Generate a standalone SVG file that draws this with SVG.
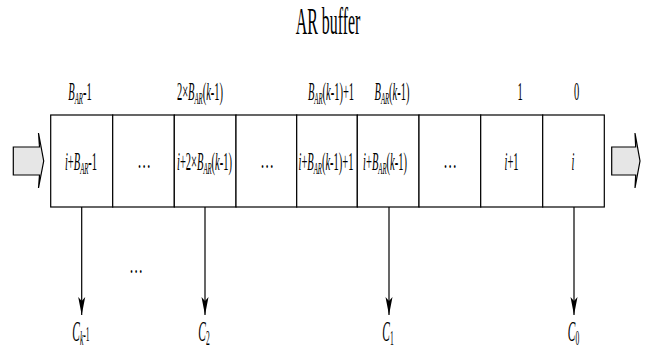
<svg xmlns="http://www.w3.org/2000/svg" width="648" height="351" viewBox="0 0 648 351">
<style>
text{font-family:"Liberation Serif","Times New Roman",serif;fill:#000;text-anchor:middle}
.t{font-size:25px}
.title{font-size:37px}
.c{font-size:30px}
.s{font-size:16px;font-style:italic}
.it{font-style:italic}
.cell{fill:#fff;stroke:#000;stroke-width:1.2}
.blk{fill:#e6e6e6;stroke:#000;stroke-width:1.2}
.con{stroke:#000;stroke-width:1.2;fill:none;marker-end:url(#ah)}
</style>
<defs>
<marker id="ah" markerUnits="userSpaceOnUse" markerWidth="24" markerHeight="12" viewBox="-20 -6 22 12" refX="0" refY="0" orient="auto">
<path d="M0,0 L-18,-3.5 L-14,0 L-18,3.5 Z" fill="#000"/>
</marker>
</defs>
<rect width="648" height="351" fill="#fff"/>
<text class="title" transform="translate(328,34) scale(0.43,1)">AR buffer</text>

<g id="in-arrow"><polygon class="blk" points="13.3,147 39.5,147 38.5,133 43.7,161 38.5,188 39.5,175 13.3,175"/></g>
<g id="out-arrow"><polygon class="blk" points="611.7,147 635.7,147 635,133 640,161 635,188 635.7,175 611.7,175"/></g>

<g id="cell1"><rect class="cell" x="50.7" y="115" width="62" height="92"/>
<text class="t" transform="translate(81,170) scale(0.42,1)"><tspan class="it">i</tspan>+<tspan class="it">B</tspan><tspan class="s" dy="4">AR</tspan><tspan dy="-4">-1</tspan></text></g>
<g id="cell2"><rect class="cell" x="112.7" y="115" width="61.6" height="92"/>
<text class="t" transform="translate(144,168) scale(0.55,1)">…</text></g>
<g id="cell3"><rect class="cell" x="174.3" y="115" width="61.7" height="92"/>
<text class="t" transform="translate(204.5,170) scale(0.42,1)"><tspan class="it">i</tspan>+2×<tspan class="it">B</tspan><tspan class="s" dy="4">AR</tspan><tspan dy="-4">(</tspan><tspan class="it">k</tspan>-1)</text></g>
<g id="cell4"><rect class="cell" x="236" y="115" width="60.7" height="92"/>
<text class="t" transform="translate(267,168) scale(0.55,1)">…</text></g>
<g id="cell5"><rect class="cell" x="296.7" y="115" width="60.6" height="92"/>
<text class="t" transform="translate(326,170) scale(0.42,1)"><tspan class="it">i</tspan>+<tspan class="it">B</tspan><tspan class="s" dy="4">AR</tspan><tspan dy="-4">(</tspan><tspan class="it">k</tspan>-1)+1</text></g>
<g id="cell6"><rect class="cell" x="357.3" y="115" width="61.7" height="92"/>
<text class="t" transform="translate(385,170) scale(0.42,1)"><tspan class="it">i</tspan>+<tspan class="it">B</tspan><tspan class="s" dy="4">AR</tspan><tspan dy="-4">(</tspan><tspan class="it">k</tspan>-1)</text></g>
<g id="cell7"><rect class="cell" x="419" y="115" width="61.7" height="92"/>
<text class="t" transform="translate(450,168) scale(0.55,1)">…</text></g>
<g id="cell8"><rect class="cell" x="480.7" y="115" width="62" height="92"/>
<text class="t" transform="translate(511.5,170) scale(0.42,1)"><tspan class="it">i</tspan>+1</text></g>
<g id="cell9"><rect class="cell" x="542.7" y="115" width="61.6" height="92"/>
<text class="t it" transform="translate(573,170) scale(0.42,1)">i</text></g>

<g id="top-labels">
<text class="t" transform="translate(80,100) scale(0.42,1)"><tspan class="it">B</tspan><tspan class="s" dy="4">AR</tspan><tspan dy="-4">-1</tspan></text>
<text class="t" transform="translate(200,100) scale(0.42,1)">2×<tspan class="it">B</tspan><tspan class="s" dy="4">AR</tspan><tspan dy="-4">(</tspan><tspan class="it">k</tspan>-1)</text>
<text class="t" transform="translate(331,100) scale(0.42,1)"><tspan class="it">B</tspan><tspan class="s" dy="4">AR</tspan><tspan dy="-4">(</tspan><tspan class="it">k</tspan>-1)+1</text>
<text class="t" transform="translate(392,100) scale(0.42,1)"><tspan class="it">B</tspan><tspan class="s" dy="4">AR</tspan><tspan dy="-4">(</tspan><tspan class="it">k</tspan>-1)</text>
<text class="t" transform="translate(520,100) scale(0.42,1)">1</text>
<text class="t" transform="translate(576.5,100) scale(0.42,1)">0</text>
</g>

<g id="connectors">
<line class="con" x1="81.7" y1="207" x2="81.7" y2="315"/>
<line class="con" x1="205" y1="207" x2="205" y2="315"/>
<line class="con" x1="389" y1="207" x2="389" y2="315"/>
<line class="con" x1="574" y1="207" x2="574" y2="315"/>
</g>

<g id="outputs">
<text class="c" transform="translate(81,341) scale(0.38,1)"><tspan class="it">C</tspan><tspan class="it" dy="4" style="font-size:20px">k</tspan><tspan dy="-4" style="font-size:20px">-1</tspan></text>
<text class="c" transform="translate(204,341) scale(0.38,1)"><tspan class="it">C</tspan><tspan dy="4" style="font-size:20px">2</tspan></text>
<text class="c" transform="translate(388,341) scale(0.38,1)"><tspan class="it">C</tspan><tspan dy="4" style="font-size:20px">1</tspan></text>
<text class="c" transform="translate(573.5,341) scale(0.38,1)"><tspan class="it">C</tspan><tspan dy="4" style="font-size:20px">0</tspan></text>
<text class="t" transform="translate(136,273) scale(0.55,1)">…</text>
</g>
</svg>
